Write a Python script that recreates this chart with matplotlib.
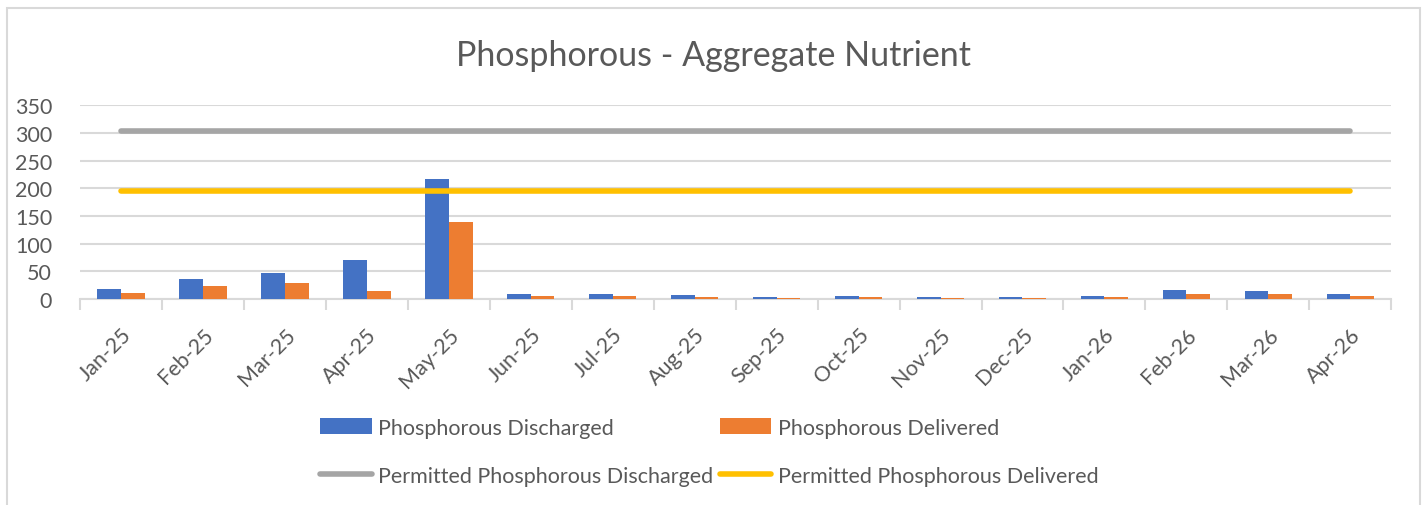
import matplotlib
matplotlib.use("Agg")
import matplotlib.pyplot as plt
import numpy as np
from matplotlib.patches import Rectangle
from matplotlib.transforms import ScaledTranslation

months = ["Jan-25", "Feb-25", "Mar-25", "Apr-25", "May-25", "Jun-25", "Jul-25", "Aug-25",
          "Sep-25", "Oct-25", "Nov-25", "Dec-25", "Jan-26", "Feb-26", "Mar-26", "Apr-26"]
discharged = [18, 36, 47, 70, 217, 9, 9, 7, 3.6, 5.4, 3.6, 3.6, 5.4, 16, 14, 9]
delivered = [11, 23, 29, 15, 139, 5.4, 5.4, 3.6, 1.8, 3.6, 1.8, 1.8, 3.6, 9, 9, 5.4]
permitted_discharged = 303
permitted_delivered = 196

plt.rcParams['font.family'] = ['Lato', 'DejaVu Sans']
txt = '#595959'
grid = '#d9d9d9'

fig = plt.figure(figsize=(14.27, 5.06), dpi=100)
ax = fig.add_axes([0.056, 0.407, 0.919, 0.383])

x = np.arange(len(months))
w = 0.29
b1 = ax.bar(x - w / 2, discharged, w, color='#4472c4', label='Phosphorous Discharged', zorder=3)
b2 = ax.bar(x + w / 2, delivered, w, color='#ed7d31', label='Phosphorous Delivered', zorder=3)
l1, = ax.plot(x, [permitted_discharged] * len(x), color='#a5a5a5', lw=4, solid_capstyle='round',
              label='Permitted Phosphorous Discharged', zorder=4)
l2, = ax.plot(x, [permitted_delivered] * len(x), color='#ffc000', lw=4, solid_capstyle='round',
              label='Permitted Phosphorous Delivered', zorder=4)

ax.set_xlim(-0.5, len(months) - 0.5)
ax.set_ylim(0, 350)
ax.set_yticks(range(0, 351, 50))
ax.yaxis.grid(True, color=grid, lw=1.5, zorder=0)
ax.set_xticks(x)
ax.set_xticklabels(months, rotation=45, ha='right', rotation_mode='anchor')
off = ScaledTranslation(0.1, 0, fig.dpi_scale_trans)
for lab in ax.get_xticklabels():
    lab.set_transform(lab.get_transform() + off)
ax.set_xticks(np.arange(-0.5, len(months)), minor=True)
ax.tick_params(axis='x', which='major', length=0, pad=18, labelsize=15.5, labelcolor=txt)
ax.tick_params(axis='x', which='minor', length=8, color=grid, width=1.5)
ax.tick_params(axis='y', length=0, labelsize=15.5, labelcolor=txt, pad=20)
for s in ['top', 'right', 'left']:
    ax.spines[s].set_visible(False)
ax.spines['bottom'].set_color(grid)
ax.spines['bottom'].set_linewidth(1.5)

fig.text(0.5, 0.89, "Phosphorous - Aggregate Nutrient", ha='center', va='center',
         fontsize=24.5, color=txt)

fig.legend([b1, l1, b2, l2],
           ['Phosphorous Discharged', 'Permitted Phosphorous Discharged',
            'Phosphorous Delivered', 'Permitted Phosphorous Delivered'],
           ncol=2, loc='center', bbox_to_anchor=(0.497, 0.105), frameon=False,
           fontsize=15.5, labelcolor=txt, handlelength=2.4, handletextpad=0.3,
           columnspacing=0.3, labelspacing=1.3, handleheight=0.75)

fig.patches.append(Rectangle((0.005, -0.05), 0.99, 1.032, transform=fig.transFigure,
                             fill=False, edgecolor=grid, lw=1.5))

fig.savefig("out.png", dpi=100)
